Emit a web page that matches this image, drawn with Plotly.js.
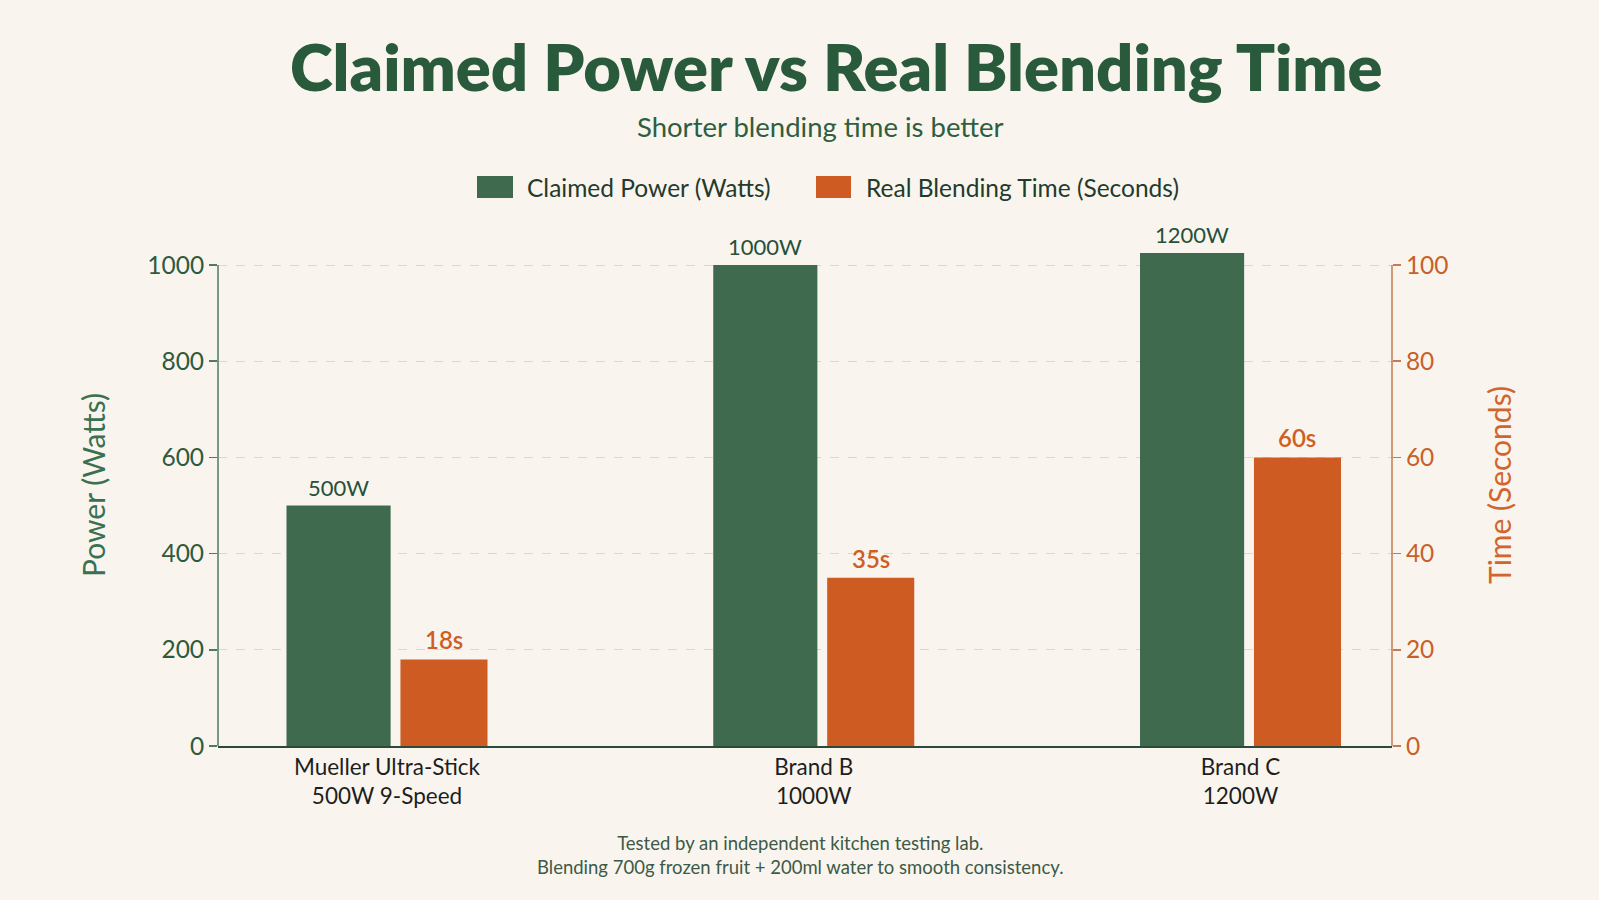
<!DOCTYPE html>
<html>
<head>
<meta charset="utf-8">
<script src="https://cdn.plot.ly/plotly-3.0.1.min.js"></script>
<style>
  html, body { margin: 0; padding: 0; background: #F9F5EE; }
  #chart { width: 1599px; height: 900px; }
</style>
</head>
<body>
<div id="chart"></div>
<script>
// ---- data ----
const categories = ["Mueller Ultra-Stick<br>500W 9-Speed", "Brand B<br>1000W", "Brand C<br>1200W"];
const powerWatts = [500, 1000, 1200];
const timeSeconds = [18, 35, 60];
const powerLabels = ["500W", "1000W", "1200W"];
const timeLabels = ["18s", "35s", "60s"];
const powerTicks = [0, 200, 400, 600, 800, 1000];
const timeTicks = [0, 20, 40, 60, 80, 100];
const seriesNames = ["Claimed Power (Watts)", "Real Blending Time (Seconds)"];
const axisTitles = ["Power (Watts)", "Time (Seconds)"];
const titleText = "Claimed Power vs Real Blending Time";
const subtitleText = "Shorter blending time is better";
const footnoteText = "Tested by an independent kitchen testing lab.<br>Blending 700g frozen fruit + 200ml water to smooth consistency.";

// ---- style ----
const GREEN = "#3F6A4E";
const ORANGE = "#CD5B22";
const DARKGREEN = "#2A5A3C";
const BG = "#F9F5EE";
const FONT = "Lato, 'Open Sans', sans-serif";

const W = 1599, H = 900;
const M = {l: 218, r: 207, t: 253, b: 154};
const PW = W - M.l - M.r, PH = H - M.t - M.b;
const xp = px => (px - M.l) / PW;
const yp = py => (H - M.b - py) / PH;

const yTop = 1025;       // left axis upper bound
const y2Top = 102.5;     // right axis upper bound
const greenOffset = -0.2355, greenWidth = 0.244;
const orangeOffset = 0.0315, orangeWidth = 0.204;

const traces = [
  {
    type: "bar", name: seriesNames[0], x: categories, y: powerWatts,
    yaxis: "y", offset: greenOffset, width: greenWidth,
    marker: {color: GREEN}, hoverinfo: "x+y", showlegend: false
  },
  {
    type: "bar", name: seriesNames[1], x: categories, y: timeSeconds,
    yaxis: "y2", offset: orangeOffset, width: orangeWidth,
    marker: {color: ORANGE}, hoverinfo: "x+y", showlegend: false
  }
];

const annotations = [];
// value labels
categories.forEach((c, i) => {
  annotations.push({
    x: i + greenOffset + greenWidth / 2, xref: "x",
    y: Math.min(powerWatts[i], yTop), yref: "y",
    text: powerLabels[i], showarrow: false, yanchor: "bottom", yshift: 3,
    font: {family: FONT, size: 22, color: "#26503A"}
  });
  annotations.push({
    x: i + orangeOffset + orangeWidth / 2, xref: "x",
    y: Math.min(timeSeconds[i], y2Top), yref: "y2",
    text: timeLabels[i], showarrow: false, yanchor: "bottom", yshift: 3,
    font: {family: FONT, size: 24, color: "#CF5E24", weight: 600}
  });
});
// title / subtitle / footnote
annotations.push({
  xref: "paper", yref: "paper", x: xp(836), y: yp(66), xanchor: "center", yanchor: "middle",
  text: titleText, showarrow: false,
  font: {family: FONT, size: 65, color: DARKGREEN, weight: 800}
});
annotations.push({
  xref: "paper", yref: "paper", x: xp(820), y: yp(126), xanchor: "center", yanchor: "middle",
  text: subtitleText, showarrow: false,
  font: {family: FONT, size: 27.5, color: "#2E5E40"}
});
annotations.push({
  xref: "paper", yref: "paper", x: xp(800), y: yp(855), xanchor: "center", yanchor: "middle",
  text: footnoteText, showarrow: false,
  font: {family: FONT, size: 18.5, color: "#3C5A47"}
});
// axis titles
annotations.push({
  xref: "paper", yref: "paper", x: xp(93), y: yp(485), xanchor: "center", yanchor: "middle",
  text: axisTitles[0], textangle: -90, showarrow: false,
  font: {family: FONT, size: 30, color: "#3B7050"}
});
annotations.push({
  xref: "paper", yref: "paper", x: xp(1499), y: yp(485), xanchor: "center", yanchor: "middle",
  text: axisTitles[1], textangle: -90, showarrow: false,
  font: {family: FONT, size: 30, color: "#D0662E"}
});
// custom legend
const legendItems = [
  {name: seriesNames[0], color: GREEN, box: [477, 513], textX: 525},
  {name: seriesNames[1], color: ORANGE, box: [816, 851], textX: 864}
];
const shapes = [];
legendItems.forEach(it => {
  shapes.push({
    type: "rect", xref: "paper", yref: "paper",
    x0: xp(it.box[0]), x1: xp(it.box[1]), y0: yp(198), y1: yp(176),
    fillcolor: it.color, line: {width: 0}
  });
  annotations.push({
    xref: "paper", yref: "paper", x: xp(it.textX), y: yp(187), xanchor: "left", yanchor: "middle",
    text: it.name, showarrow: false,
    font: {family: FONT, size: 24.5, color: "#233A2C"}
  });
});
// axis lines (stop at the top tick)
shapes.push({type: "line", xref: "paper", yref: "y", x0: 0, x1: 0, y0: 0, y1: powerTicks[powerTicks.length - 1],
  line: {color: "#4E7A5E", width: 1.5}});
shapes.push({type: "line", xref: "paper", yref: "y2", x0: 1, x1: 1, y0: 0, y1: timeTicks[timeTicks.length - 1],
  line: {color: "#C47A52", width: 1.5}});

const layout = {
  width: W, height: H,
  margin: M,
  paper_bgcolor: BG, plot_bgcolor: BG,
  font: {family: FONT},
  barmode: "overlay",
  showlegend: false,
  xaxis: {
    type: "category", range: [-0.396, 2.355],
    showline: true, linecolor: "#2C4A37", linewidth: 2,
    ticks: "", showgrid: false, zeroline: false,
    tickfont: {family: FONT, size: 22.5, color: "#1E1E1E"}
  },
  yaxis: {
    range: [0, yTop], tickvals: powerTicks,
    showline: false, ticks: "outside", ticklen: 8, tickcolor: "#4E7A5E", tickwidth: 1.5,
    showgrid: true, gridcolor: "#DCD7CC", griddash: "dash", gridwidth: 1,
    zeroline: false,
    tickfont: {family: FONT, size: 24.5, color: "#2E5A3E"}
  },
  yaxis2: {
    overlaying: "y", side: "right", range: [0, y2Top], tickvals: timeTicks,
    showline: false, ticks: "outside", ticklen: 8, tickcolor: "#C47A52", tickwidth: 1.5,
    showgrid: false, zeroline: false,
    tickfont: {family: FONT, size: 24.5, color: "#C8602A"}
  },
  annotations: annotations,
  shapes: shapes
};

Plotly.newPlot("chart", traces, layout, {displayModeBar: false, staticPlot: true});
</script>
</body>
</html>
